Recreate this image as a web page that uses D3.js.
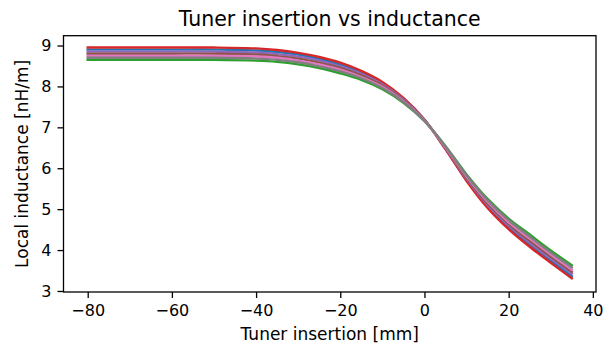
<!DOCTYPE html>
<html>
<head>
<meta charset="utf-8">
<script src="https://cdn.jsdelivr.net/npm/d3@7"></script>
<style>
  body { margin: 0; background: #fff; }
  svg text { font-family: "DejaVu Sans", sans-serif; fill: #000; }
</style>
</head>
<body>
<div id="canvas"></div>
<script>
// ////////// DATA /////////////

var insertion = [-80, -70, -60, -50, -40, -35, -30, -25, -20, -15, -10, -5, 0, 5, 10, 15, 20, 25, 30, 35]

var redLine    = [8.95, 8.95, 8.95, 8.95, 8.93, 8.89, 8.82, 8.72, 8.58, 8.38, 8.11, 7.72, 7.19, 6.46, 5.69, 5.03, 4.51, 4.08, 3.69, 3.31]
var blueLine   = [8.90, 8.90, 8.90, 8.90, 8.88, 8.84, 8.78, 8.67, 8.53, 8.34, 8.08, 7.70, 7.18, 6.48, 5.72, 5.07, 4.55, 4.13, 3.74, 3.36]
var purpleLine = [8.85, 8.85, 8.85, 8.85, 8.83, 8.79, 8.73, 8.63, 8.49, 8.31, 8.05, 7.68, 7.18, 6.49, 5.74, 5.10, 4.60, 4.18, 3.79, 3.42]
var brownLine  = [8.80, 8.80, 8.80, 8.80, 8.78, 8.74, 8.68, 8.58, 8.45, 8.27, 8.02, 7.66, 7.17, 6.50, 5.77, 5.14, 4.64, 4.23, 3.84, 3.47]
var pinkLine   = [8.75, 8.75, 8.75, 8.75, 8.73, 8.70, 8.63, 8.54, 8.41, 8.23, 7.99, 7.64, 7.16, 6.51, 5.80, 5.18, 4.68, 4.28, 3.89, 3.52]
var grayLine   = [8.70, 8.70, 8.70, 8.70, 8.68, 8.65, 8.59, 8.49, 8.37, 8.20, 7.96, 7.62, 7.16, 6.53, 5.83, 5.22, 4.73, 4.33, 3.94, 3.58]
var greenLine  = [8.65, 8.65, 8.65, 8.65, 8.63, 8.60, 8.54, 8.45, 8.32, 8.16, 7.93, 7.60, 7.15, 6.54, 5.85, 5.25, 4.77, 4.38, 3.99, 3.63]

var xTicks = [-80, -60, -40, -20, 0, 20, 40]
var yTicks = [3, 4, 5, 6, 7, 8, 9]

// draw order follows the matplotlib colour cycle
var series = [
  { values: blueLine,   color: "#1f77b4" },
  { values: greenLine,  color: "#2ca02c" },
  { values: redLine,    color: "#d62728" },
  { values: purpleLine, color: "#9467bd" },
  { values: brownLine,  color: "#8c564b" },
  { values: pinkLine,   color: "#e377c2" },
  { values: grayLine,   color: "#7f7f7f" }
]

///////// GLOBAL VARS //////////

var width = 614,
  height = 353,
  plot = { left: 63.5, right: 596, top: 35.7, bottom: 292 }

var svg = d3.select("#canvas")
  .append("svg")
  .attr("width", width)
  .attr("height", height)

// X scale
var x = d3.scaleLinear()
  .domain([-85.75, 40.75])
  .range([plot.left, plot.right])

// Y scale
var y = d3.scaleLinear()
  .domain([2.975, 9.24])
  .range([plot.bottom, plot.top])

// lines
var line = d3.line()
  .x((d, i) => x(insertion[i]))
  .y(d => y(d))
  .curve(d3.curveCatmullRom.alpha(0.5))

svg.selectAll("path.series")
  .data(series)
  .join("path")
  .attr("class", "series")
  .attr("d", d => line(d.values))
  .attr("fill", "none")
  .attr("stroke", d => d.color)
  .attr("stroke-width", 2.4)
  .attr("stroke-linejoin", "round")
  .attr("stroke-linecap", "square")

// axes
svg.append("g")
  .attr("transform", `translate(0,${plot.bottom})`)
  .call(d3.axisBottom(x).tickValues(xTicks).tickSize(6).tickPadding(6.5)
    .tickFormat(d => d < 0 ? "\u2212" + Math.abs(d) : d))

svg.append("g")
  .attr("transform", `translate(${plot.left},0)`)
  .call(d3.axisLeft(y).tickValues(yTicks).tickSize(6).tickPadding(6)
    .tickFormat(d3.format("d")))

svg.selectAll(".tick text").attr("font-size", 16).attr("font-family", null)
svg.selectAll(".tick line").attr("stroke", "#000").attr("stroke-width", 1.3)
svg.selectAll(".domain").remove()

// frame
svg.append("rect")
  .attr("x", plot.left)
  .attr("y", plot.top)
  .attr("width", plot.right - plot.left)
  .attr("height", plot.bottom - plot.top)
  .attr("fill", "none")
  .attr("stroke", "#000")
  .attr("stroke-width", 1.3)

// labels
svg.append("text")
  .attr("x", (plot.left + plot.right) / 2)
  .attr("y", 26)
  .attr("text-anchor", "middle")
  .attr("font-size", 20.5)
  .text("Tuner insertion vs inductance")

svg.append("text")
  .attr("x", (plot.left + plot.right) / 2)
  .attr("y", 340)
  .attr("text-anchor", "middle")
  .attr("font-size", 17)
  .text("Tuner insertion [mm]")

svg.append("text")
  .attr("transform", `translate(28,${(plot.top + plot.bottom) / 2}) rotate(-90)`)
  .attr("text-anchor", "middle")
  .attr("font-size", 17)
  .text("Local inductance [nH/m]")
</script>
</body>
</html>
